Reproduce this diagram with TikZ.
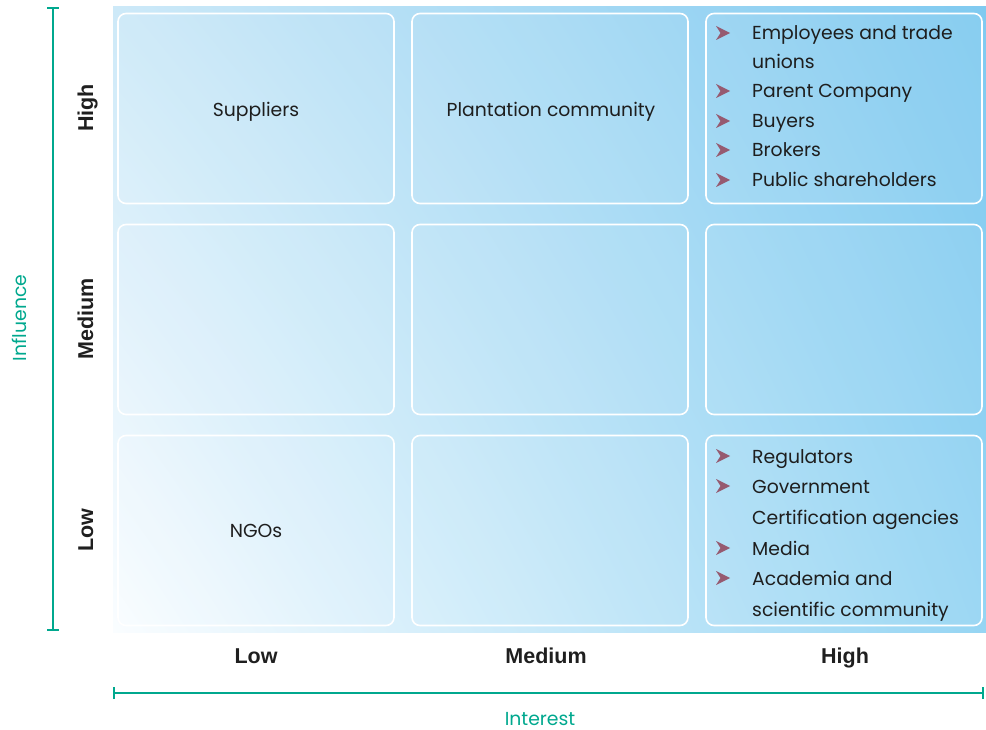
\documentclass[tikz,border=0pt]{standalone}
\usepackage{fontspec}
\usetikzlibrary{shadings}
\setmainfont{Poppins}
\newfontfamily\labfont{Liberation Sans}
\definecolor{axisc}{RGB}{0,168,142}
\definecolor{txtc}{RGB}{30,30,30}
\definecolor{bulc}{RGB}{150,90,112}
\definecolor{bgUL}{RGB}{205,233,248}
\definecolor{bgUR}{RGB}{128,202,240}
\definecolor{bgLL}{RGB}{250,253,255}
\definecolor{bgLR}{RGB}{150,213,243}
\tikzset{
  cell/.style={draw=white, line width=1.6pt, rounded corners=8pt, fill=white, fill opacity=0.06,
    minimum width=276pt, minimum height=190pt, inner sep=0pt},
  celltext/.style={anchor=base, inner sep=0pt, font=\fontsize{18.8}{22}\selectfont, text=txtc},
  item/.style={anchor=base west, inner sep=0pt, font=\fontsize{18.8}{22}\selectfont, text=txtc},
  bullet/.style={fill=bulc},
  axisline/.style={draw=axisc, line width=2.6pt},
  rowlab/.style={rotate=90, anchor=base, font=\labfont\bfseries\fontsize{21.5}{24}\selectfont, text=black!88},
  collab/.style={anchor=base, font=\labfont\bfseries\fontsize{21.5}{24}\selectfont, text=black!88},
  axislab/.style={anchor=base, font=\fontsize{18.8}{22}\selectfont, text=axisc}
}
\begin{document}
\begin{tikzpicture}[x=1pt,y=-1pt]
\useasboundingbox (0,0) rectangle (986,730);
% background
\shade[upper left=bgUL, upper right=bgUR, lower left=bgLL, lower right=bgLR] (113,7) rectangle (986,632);
% cells
\node[cell] (c11) at (256,108.5) {};
\node[cell] (c12) at (550,108.5) {};
\node[cell] (c13) at (844,108.5) {};
\node[cell] (c21) at (256,319.5) {};
\node[cell] (c22) at (550,319.5) {};
\node[cell] (c23) at (844,319.5) {};
\node[cell] (c31) at (256,530.5) {};
\node[cell] (c32) at (550,530.5) {};
\node[cell] (c33) at (844,530.5) {};
\node[celltext] (t11) at (256,117) {Suppliers};
\node[celltext] (t12) at (551,117) {Plantation community};
\node[celltext] (t31) at (256,537) {NGOs};
% high-high list
\foreach \t/\y/\b [count=\i] in {Employees and trade/33/1, unions/62/0, Parent Company/91/1, Buyers/121/1, Brokers/150/1, Public shareholders/180/1}{
  \node[item] (h\i) at (752,\y+7) {\t};
  \ifnum\b=1
    \fill[bullet] (716,\y-7) -- (730,\y) -- (716,\y+7) -- (720.5,\y) -- cycle;
  \fi
}
% low-high list
\foreach \t/\y/\b [count=\i] in {Regulators/456/1, Government/486/1, Certification agencies/517/0, Media/548/1, Academia and/578/1, scientific community/609/0}{
  \node[item] (l\i) at (752,\y+7) {\t};
  \ifnum\b=1
    \fill[bullet] (716,\y-7) -- (730,\y) -- (716,\y+7) -- (720.5,\y) -- cycle;
  \fi
}
% row labels
\node[rowlab] (rh) at (93,108) {High};
\node[rowlab] (rm) at (93,319) {Medium};
\node[rowlab] (rl) at (93,530) {Low};
% column labels
\node[collab] (cl) at (256,663) {Low};
\node[collab] (cm) at (546,663) {Medium};
\node[collab] (ch) at (845,663) {High};
% axes
\coordinate (vt) at (53,8);
\coordinate (vb) at (53,630);
\draw[axisline] (vt) -- (vb);
\draw[axisline] ([xshift=-6pt]vt) -- ([xshift=6pt]vt);
\draw[axisline] ([xshift=-6pt]vb) -- ([xshift=6pt]vb);
\coordinate (hl) at (114,693);
\coordinate (hr) at (983,693);
\draw[axisline] (hl) -- (hr);
\draw[axisline] ([yshift=-6pt]hl) -- ([yshift=6pt]hl);
\draw[axisline] ([yshift=-6pt]hr) -- ([yshift=6pt]hr);
\node[axislab, rotate=90] (inf) at (27,318) {Influence};
\node[axislab] (int) at (540,725) {Interest};
\end{tikzpicture}
\end{document}
